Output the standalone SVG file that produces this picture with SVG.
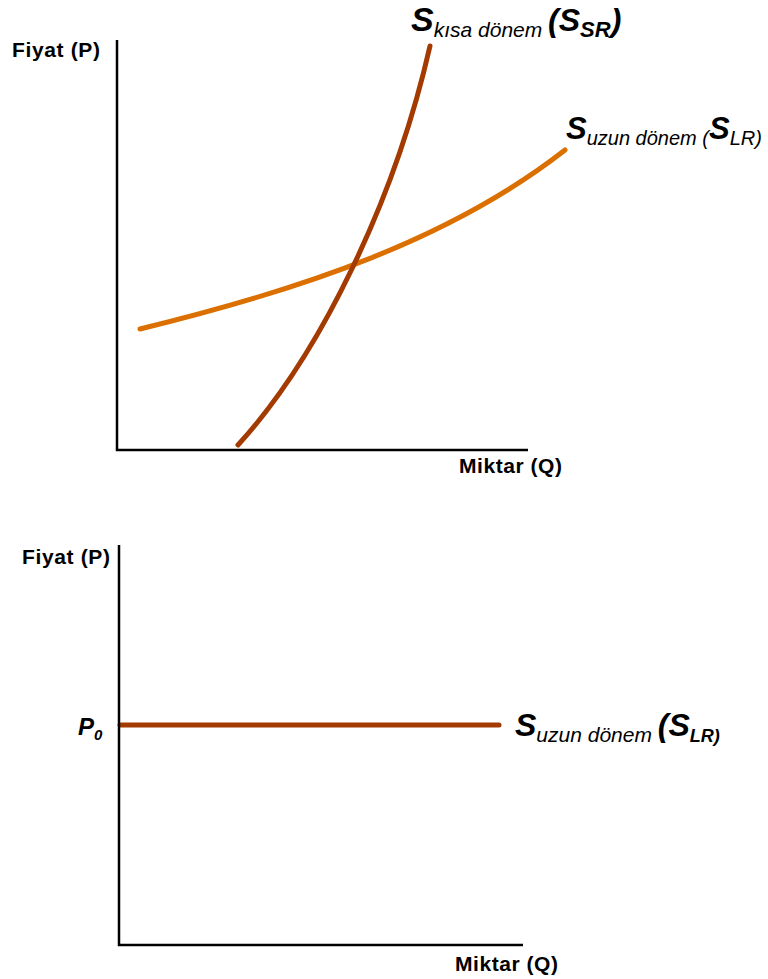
<svg xmlns="http://www.w3.org/2000/svg" width="768" height="979" viewBox="0 0 768 979">
<style>
.ax{stroke:#000;stroke-width:2.5;fill:none}
.sr{stroke:#A33A00;stroke-width:5;fill:none;stroke-linecap:round;stroke-linejoin:round}
.lr{stroke:#DB7000;stroke-width:5;fill:none;stroke-linecap:round;stroke-linejoin:round}
.lbl{font-family:"Liberation Sans",Arial,sans-serif;font-weight:bold;font-size:21px;fill:#000}
.big{font-family:"Liberation Sans",Arial,sans-serif;font-weight:bold;font-style:italic;fill:#000}
</style>
<rect width="768" height="979" fill="#fff"/>
<g id="chart-top">
<path class="ax" d="M117,40 V450 H528"/>
<text class="lbl" x="12" y="57" textLength="88">Fiyat (P)</text>
<text class="lbl" x="459" y="473" textLength="103">Miktar (Q)</text>
</g>
<g id="connectors">
<path id="curve-lr" class="lr" d="M140,329 C300,290 450,240 565,150"/>
<path id="curve-sr" class="sr" d="M238,445 C320,355 395,200 430,46"/>
<path id="line-lr2" class="sr" d="M120,725 H499"/>
</g>
<g id="label-sr">
<text class="big" x="411" y="31"><tspan font-size="34">S</tspan><tspan font-size="21" font-weight="normal" dy="6">kısa dönem </tspan><tspan font-size="32" dy="-6">(S</tspan><tspan font-size="22" dy="6">SR</tspan><tspan font-size="32" dy="-6">)</tspan></text>
</g>
<g id="label-lr">
<text class="big" x="566" y="139"><tspan font-size="31">S</tspan><tspan font-size="20" font-weight="normal" dy="6">uzun dönem (</tspan><tspan font-size="31" dy="-6">S</tspan><tspan font-size="20" font-weight="normal" dy="6">LR)</tspan></text>
</g>
<g id="chart-bottom">
<path class="ax" d="M119,545 V945 H523"/>
<text class="lbl" x="22" y="564" textLength="88">Fiyat (P)</text>
<text class="lbl" x="455" y="971" textLength="103">Miktar (Q)</text>
<text class="big" x="78" y="735"><tspan font-size="24">P</tspan><tspan font-size="15" dy="5">0</tspan></text>
</g>
<g id="label-lr-bottom">
<text class="big" x="515" y="736"><tspan font-size="32">S</tspan><tspan font-size="21" font-weight="normal" dy="6">uzun dönem </tspan><tspan font-size="32" dy="-6">(S</tspan><tspan font-size="18" dy="6">LR)</tspan></text>
</g>
</svg>
